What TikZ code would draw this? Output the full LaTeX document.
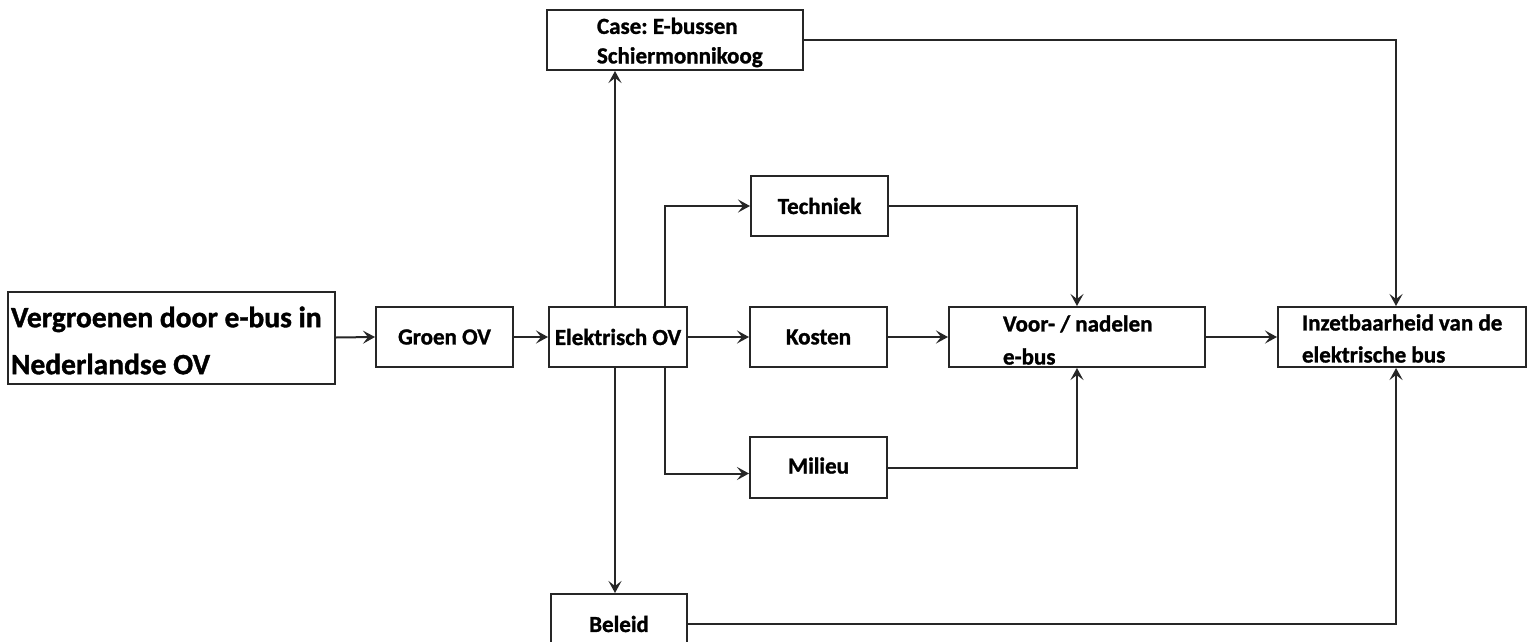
\documentclass[tikz,border=0pt]{standalone}
\usepackage{fontspec}
\setmainfont{Carlito}[BoldFeatures={FakeBold=1.2}]
\usetikzlibrary{arrows.meta}
\frenchspacing
\newcommand\lowertxt[2]{\raisebox{-#1}[\height][\depth]{#2}}
\newcommand\natspace{\spaceskip=0pt\relax\xspaceskip=0pt\relax}
\begin{document}
\begin{tikzpicture}[x=1pt,y=-1pt,
  box/.style={draw=black!85, line width=2pt, fill=white, inner sep=0pt, font=\fontsize{23}{32}\selectfont\bfseries, align=center},
  lbox/.style={box, align=left},
  arr/.style={draw=black!85, line width=2pt, -{Stealth[length=12pt,width=13pt,inset=5pt]}}]
\clip (0,0) rectangle (1531,642);
\fill[white] (0,0) rectangle (1531,642);
% boxes
\node[lbox, minimum width=327, minimum height=92, text width=325, font=\fontsize{29.5}{47}\selectfont\bfseries] (main) at (171.5,337.5) {\natspace\hspace*{2pt}\lowertxt{3pt}{Vergroenen door e-bus in}\\\hspace*{2pt}\lowertxt{3pt}{Nederlandse OV}};
\node[box, minimum width=137, minimum height=60] (groen) at (444.5,337) {\natspace Groen OV};
\node[box, minimum width=138, minimum height=60] (elek) at (618,337) {\natspace Elektrisch OV};
\node[box, minimum width=137, minimum height=60] (kosten) at (818.5,337) {Kosten};
\node[lbox, minimum width=256, minimum height=60, text width=254, font=\fontsize{23}{33}\selectfont\bfseries] (voor) at (1077,337) {\natspace\hspace*{53pt}\lowertxt{3pt}{Voor- / nadelen}\\\hspace*{53pt}\lowertxt{3pt}{e-bus}};
\node[lbox, minimum width=248, minimum height=60, text width=246, font=\fontsize{23}{32}\selectfont\bfseries] (inzet) at (1402,337) {\natspace\hspace*{23pt}\lowertxt{1.5pt}{Inzetbaarheid van de}\\\hspace*{23pt}\lowertxt{1.5pt}{elektrische bus}};
\node[box, minimum width=137, minimum height=60] (techniek) at (819.5,206) {Techniek};
\node[box, minimum width=137, minimum height=61] (milieu) at (818.5,467.5) {\raisebox{4pt}{Milieu}};
\node[lbox, minimum width=256, minimum height=60, text width=254, font=\fontsize{23}{29.5}\selectfont\bfseries] (case) at (675,40) {\natspace\hspace*{49pt}\lowertxt{2.5pt}{Case: E-bussen}\\\hspace*{49pt}\lowertxt{2.5pt}{Schiermonnikoog}};
\node[box, minimum width=136, minimum height=60] (beleid) at (619,624) {Beleid};
% junction x positions
\coordinate (xa) at (615,0);
\coordinate (xb) at (665,0);
\coordinate (xd) at (1396,0);
% connectors
\draw[arr] (main.east) -- (groen.west);
\draw[arr] (groen.east) -- (elek.west);
\draw[arr] (elek.east) -- (kosten.west);
\draw[arr] (kosten.east) -- (voor.west);
\draw[arr] (voor.east) -- (inzet.west);
\draw[arr] (elek.north -| xa) -- (case.south -| xa);
\draw[arr] (elek.south -| xa) -- (beleid.north -| xa);
\draw[arr] (elek.north -| xb) |- (techniek.west);
\draw[arr] (elek.south -| xb) |- ([yshift=-6pt]milieu.west);
\draw[arr] (techniek.east) -| (voor.north);
\draw[arr] (milieu.east) -| (voor.south);
\draw[arr] (case.east) -| (inzet.north -| xd);
\draw[arr] (beleid.east) -| (inzet.south -| xd);
\end{tikzpicture}
\end{document}
